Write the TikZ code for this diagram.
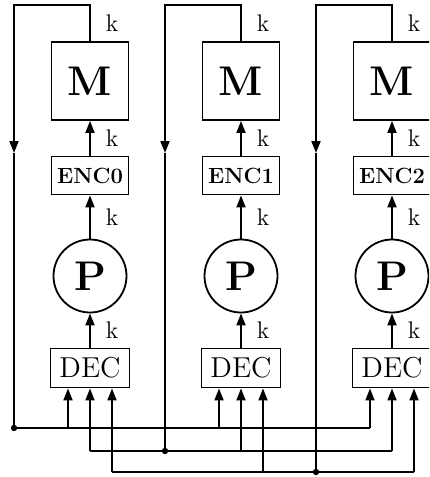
\documentclass[tikz,border=0pt]{standalone}
\usetikzlibrary{arrows.meta, positioning, calc}

\begin{document}
\begin{tikzpicture}[x=0.5pt, y=-0.5pt, line width=0.9pt,
        blk/.style={draw, rectangle, inner sep=0pt},
        arr/.style={-{Triangle[length=6pt, width=4.5pt]}},
        lbl/.style={right=7.5pt, inner sep=0pt, font=\large}]
    \useasboundingbox (0,0) rectangle (429,477);
    \clip (0,0) rectangle (429,477);
    % bus levels
    \coordinate (Y1) at (0,428);
    \coordinate (Y2) at (0,451);
    \coordinate (Y3) at (0,472);
    \foreach \i/\cx in {0/90, 1/241, 2/392} {
        \pgfmathtruncatemacro\k{\i+1}
        \node[blk, minimum width=38.5pt, minimum height=39pt, font=\huge\bfseries] (M\i) at (\cx,81) {M};
        \node[blk, minimum width=38.5pt, minimum height=19pt, font=\fontsize{11}{13}\selectfont\bfseries] (E\i) at (\cx,175.5) {ENC\i};
        \node[draw, circle, minimum size=36.5pt, inner sep=0pt, font=\huge\bfseries] (P\i) at (\cx,276) {P};
        \node[blk, minimum width=39.5pt, minimum height=19.5pt, font=\Large] (D\i) at (\cx,368) {DEC};
        \draw[arr] (D\i) -- node[lbl] {k} (P\i);
        \draw[arr] (P\i) -- node[lbl] {k} (E\i);
        \draw[arr] (E\i) -- node[lbl] {k} (M\i);
        % feedback loop
        \coordinate (T\i) at (\cx,5);
        \coordinate (A\i) at (\cx-76,153);
        \coordinate (B\i) at (A\i |- Y\k);
        \draw[arr] (M\i.north) -- node[lbl] {k} (T\i) -| (A\i);
        \draw (A\i) -- (B\i);
        \fill (B\i) circle[radius=1.6pt];
        % decoder inputs
        \foreach \j in {1,2,3} {
            \coordinate (I\i\j) at ($(D\i.south)+(22*\j-44,0)$);
            \coordinate (J\i\j) at (I\i\j |- Y\j);
            \draw[arr] (J\i\j) -- (I\i\j);
        }
    }
    \draw (B0) -- (J21);
    \draw (J02) -- (J22);
    \draw (J03) -- (J23);
\end{tikzpicture}
\end{document}
